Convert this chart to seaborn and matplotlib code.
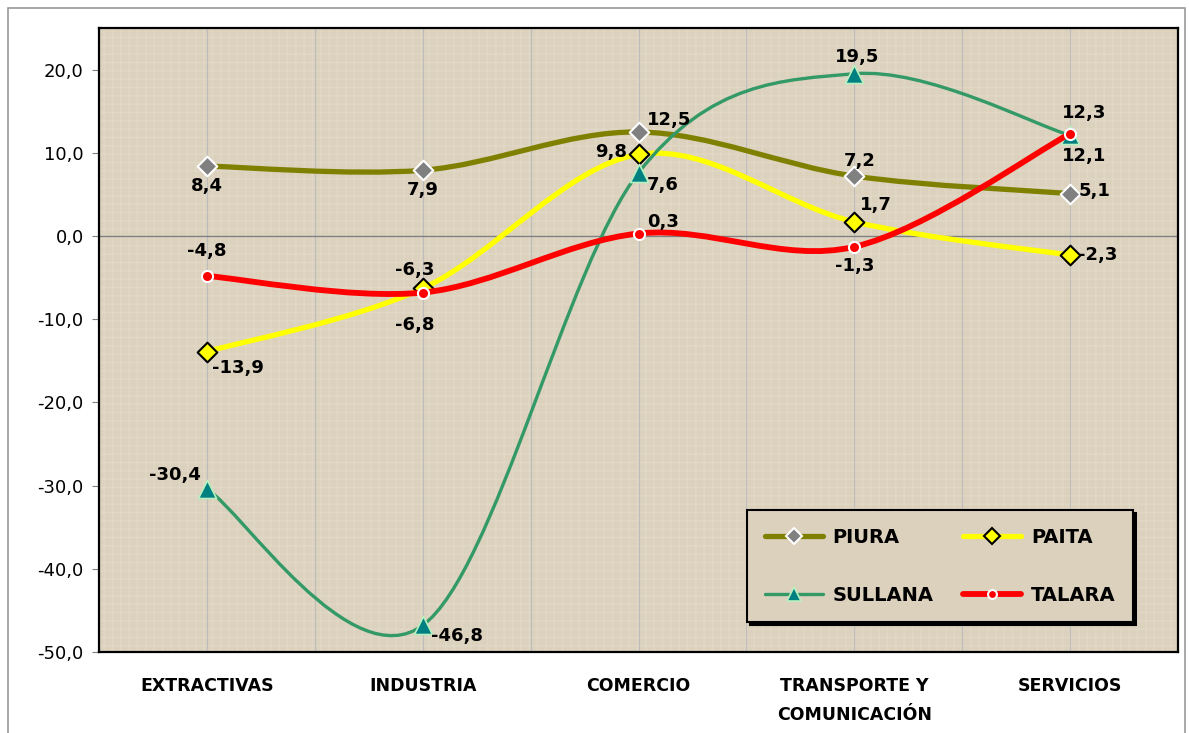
import matplotlib
matplotlib.use("Agg")
import matplotlib.pyplot as plt
import seaborn as sns
import pandas as pd
from matplotlib.path import Path
from matplotlib.patches import PathPatch, Rectangle
from matplotlib.lines import Line2D

categories = ["EXTRACTIVAS", "INDUSTRIA", "COMERCIO", "TRANSPORTE Y\nCOMUNICACIÓN", "SERVICIOS"]
piura = [8.4, 7.9, 12.5, 7.2, 5.1]
paita = [-13.9, -6.3, 9.8, 1.7, -2.3]
sullana = [-30.4, -46.8, 7.6, 19.5, 12.1]
talara = [-4.8, -6.8, 0.3, -1.3, 12.3]

series = {"PIURA": piura, "PAITA": paita, "SULLANA": sullana, "TALARA": talara}

# styles per series: line colour, line width, marker, marker size, face, edge
styles = {
    "PIURA":   dict(color="#808000", lw=3.8, marker="D", ms=10, mfc="#808080", mec="white", mew=1.5),
    "PAITA":   dict(color="#FFFF00", lw=3.8, marker="D", ms=10, mfc="#FFFF00", mec="black", mew=1.5),
    "SULLANA": dict(color="#339966", lw=2.4, marker="^", ms=13, mfc="#008080", mec="#B8F0C0", mew=1.2),
    "TALARA":  dict(color="#FF0000", lw=4.2, marker="o", ms=8, mfc="#FF0000", mec="white", mew=1.5),
}

# label offsets in points (dx, dy) and alignment
offsets = {
    "PIURA":   [(0, -14, "center"), (0, -14, "center"), (6, 9, "left"), (4, 11, "center"), (6, 2, "left")],
    "PAITA":   [(4, -12, "left"), (-6, 13, "center"), (-8, 2, "right"), (4, 12, "left"), (6, 0, "left")],
    "SULLANA": [(-4, 10, "right"), (6, -8, "left"), (6, -9, "left"), (2, 12, "center"), (10, -15, "center")],
    "TALARA":  [(0, 18, "center"), (-6, -23, "center"), (6, 8, "left"), (0, -14, "center"), (10, 15, "center")],
}


def smooth_path(xs, ys):
    # Excel-style smoothed line as cubic Bezier segments
    pts = list(zip(xs, ys))
    n = len(pts)
    verts = [pts[0]]
    codes = [Path.MOVETO]
    for i in range(n - 1):
        p0 = pts[i - 1] if i > 0 else pts[i]
        p1 = pts[i]
        p2 = pts[i + 1]
        p3 = pts[i + 2] if i + 2 < n else pts[i + 1]
        c1 = (p1[0] + (p2[0] - p0[0]) / 6, p1[1] + (p2[1] - p0[1]) / 6)
        c2 = (p2[0] - (p3[0] - p1[0]) / 6, p2[1] - (p3[1] - p1[1]) / 6)
        verts += [c1, c2, p2]
        codes += [Path.CURVE4] * 3
    return Path(verts, codes)


fig = plt.figure(figsize=(11.89, 7.33), dpi=100)
fig.patch.set_facecolor("white")
ax = fig.add_axes([99 / 1189, 1 - 652 / 733, 1079 / 1189, 624 / 733])
bg = "#DBD1BD"
ax.set_facecolor(bg)
ax.add_patch(Rectangle((0, 0), 1, 1, transform=ax.transAxes, facecolor="none",
                       edgecolor="#E6DECF", hatch="++", lw=0, zorder=0, alpha=0.5))

# outer chart border
fig.add_artist(Rectangle((8 / 1189, -0.01), 1177 / 1189, 1 - 8 / 733 + 0.01,
                         transform=fig.transFigure, facecolor="none",
                         edgecolor="#9A9A9A", lw=1.2))

xpos = list(range(len(categories)))

# gridlines
for x in [i * 0.5 for i in range(-1, 10)]:
    ax.axvline(x, color="#BDBDBD", lw=0.8, zorder=0.5)
ax.axhline(0, color="#808080", lw=1.0, zorder=0.6)

z = 2
for name, vals in series.items():
    st = styles[name]
    ax.add_patch(PathPatch(smooth_path(xpos, vals), facecolor="none",
                           edgecolor=st["color"], lw=st["lw"], capstyle="round",
                           joinstyle="round", zorder=z))
    df = pd.DataFrame({"x": xpos, "y": vals})
    sns.scatterplot(data=df, x="x", y="y", marker=st["marker"], s=st["ms"] ** 2,
                    color=st["mfc"], edgecolor=st["mec"], linewidth=st["mew"],
                    ax=ax, zorder=z + 0.5, legend=False)
    for i, v in enumerate(vals):
        dx, dy, ha = offsets[name][i]
        ax.annotate(f"{v:.1f}".replace(".", ","), (i, v), xytext=(dx, dy),
                    textcoords="offset points", ha=ha, va="center",
                    fontsize=13, fontweight="bold", color="black", zorder=10)
    z += 1

ax.set_xlim(-0.5, 4.5)
ax.set_ylim(-50, 25)
ax.set_yticks(range(-50, 21, 10))
ax.set_yticklabels([f"{v:.1f}".replace(".", ",") for v in range(-50, 21, 10)], fontsize=13)
ax.set_xticks(xpos)
ax.set_xticklabels(categories, fontsize=12.5, fontweight="bold", linespacing=1.75)
ax.tick_params(axis="x", length=0, pad=18)
ax.tick_params(axis="y", length=5, color="#808080", direction="out", pad=6)
ax.set_xlabel("")
ax.set_ylabel("")
for sp in ax.spines.values():
    sp.set_color("black")
    sp.set_linewidth(1.6)

# legend fills column-wise, so order gives rows PIURA/PAITA and SULLANA/TALARA
leg_order = ["PIURA", "SULLANA", "PAITA", "TALARA"]
handles = []
for name in leg_order:
    st = styles[name]
    handles.append(Line2D([0], [0], color=st["color"], lw=st["lw"], marker=st["marker"],
                          markersize=st["ms"] * 0.8, markerfacecolor=st["mfc"],
                          markeredgecolor=st["mec"], markeredgewidth=st["mew"],
                          solid_capstyle="round"))
leg = ax.legend(handles, leg_order, loc="lower left",
                bbox_to_anchor=(0.6006, 0.048, 0.358, 0.191), mode="expand",
                ncol=2, frameon=True, fancybox=False, shadow={"color": "black", "alpha": 1},
                prop={"size": 14, "weight": "bold"}, handlelength=3.0,
                labelspacing=2.0, borderpad=0.9, borderaxespad=0,
                handletextpad=0.5, columnspacing=0.8)
leg.get_frame().set_facecolor(bg)
leg.get_frame().set_edgecolor("black")
leg.get_frame().set_linewidth(1.5)
leg.get_frame().set_alpha(1)
leg.set_zorder(20)

fig.savefig("out.png", dpi=100)
